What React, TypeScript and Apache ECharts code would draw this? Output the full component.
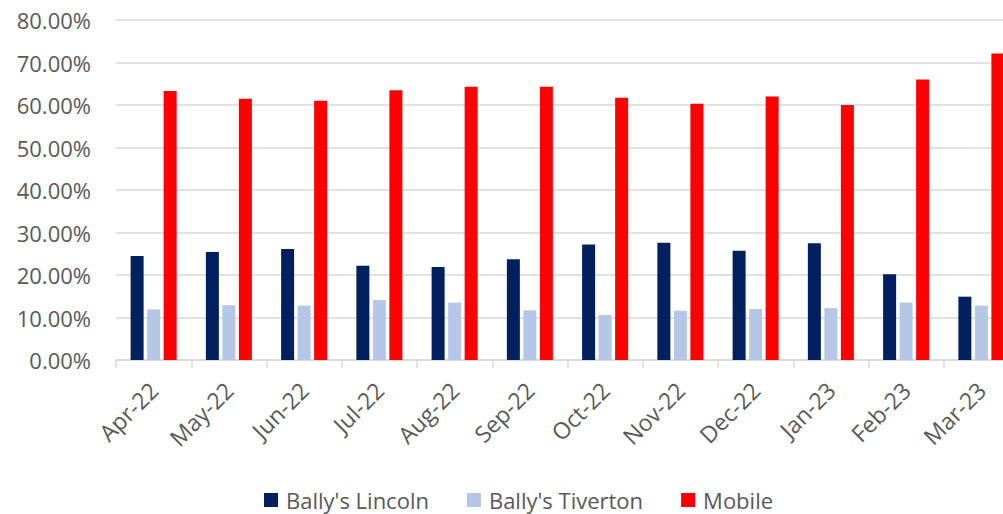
import React, { useEffect, useRef } from "react";
import * as echarts from "echarts";

const categories = ["Apr-22", "May-22", "Jun-22", "Jul-22", "Aug-22", "Sep-22", "Oct-22", "Nov-22", "Dec-22", "Jan-23", "Feb-23", "Mar-23"];
const lincoln = [0.245, 0.254, 0.261, 0.222, 0.219, 0.237, 0.272, 0.276, 0.257, 0.275, 0.202, 0.149];
const tiverton = [0.119, 0.129, 0.128, 0.141, 0.135, 0.117, 0.106, 0.116, 0.12, 0.122, 0.135, 0.128];
const mobile = [0.633, 0.615, 0.61, 0.635, 0.643, 0.643, 0.617, 0.603, 0.62, 0.6, 0.66, 0.721];

const FONT = "'Open Sans', 'Noto Sans', sans-serif";
const TEXT = "#595959";
const GRIDC = "#d9d9d9";

export default function App() {
  const ref = useRef<HTMLDivElement>(null);
  useEffect(() => {
    if (!ref.current) return;
    const chart = echarts.init(ref.current, null, { renderer: "svg" });
    chart.setOption({
      animation: false,
      backgroundColor: "#ffffff",
      textStyle: { fontFamily: FONT },
      grid: { left: 116, right: -16, top: 20, bottom: 154, containLabel: false, outerBoundsMode: "none" },
      legend: {
        left: 259,
        top: 484,
        itemWidth: 14,
        itemHeight: 14,
        itemGap: 38,
        icon: "rect",
        textStyle: { fontSize: 22, color: TEXT, fontFamily: FONT, padding: [0, 0, 0, 3] },
        data: ["Bally's Lincoln", "Bally's Tiverton", "Mobile"],
      },
      xAxis: {
        type: "category",
        data: categories,
        axisLine: { lineStyle: { color: GRIDC, width: 1.5 } },
        axisTick: { show: true, length: 8, lineStyle: { color: GRIDC, width: 1.5 } },
        axisLabel: { rotate: 45, fontSize: 23, color: TEXT, margin: 26, fontFamily: FONT, interval: 0 },
      },
      yAxis: {
        type: "value",
        min: 0,
        max: 0.8,
        interval: 0.1,
        axisLine: { show: false },
        axisTick: { show: false },
        splitLine: { lineStyle: { color: GRIDC, width: 1.5 } },
        axisLabel: {
          fontSize: 22,
          color: TEXT,
          margin: 25,
          fontFamily: FONT,
          formatter: (v: number) => (v * 100).toFixed(2) + "%",
        },
      },
      series: [
        { name: "Bally's Lincoln", type: "bar", data: lincoln, barWidth: 13, barGap: "27%", itemStyle: { color: "#002060" } },
        { name: "Bally's Tiverton", type: "bar", data: tiverton, barWidth: 13, barGap: "27%", itemStyle: { color: "#b4c7e7" } },
        { name: "Mobile", type: "bar", data: mobile, barWidth: 13, barGap: "27%", itemStyle: { color: "#ff0000" } },
      ],
    });
    return () => chart.dispose();
  }, []);
  return <div ref={ref} style={{ position: "fixed", left: 0, top: 0, width: 1003, height: 514 }} />;
}
